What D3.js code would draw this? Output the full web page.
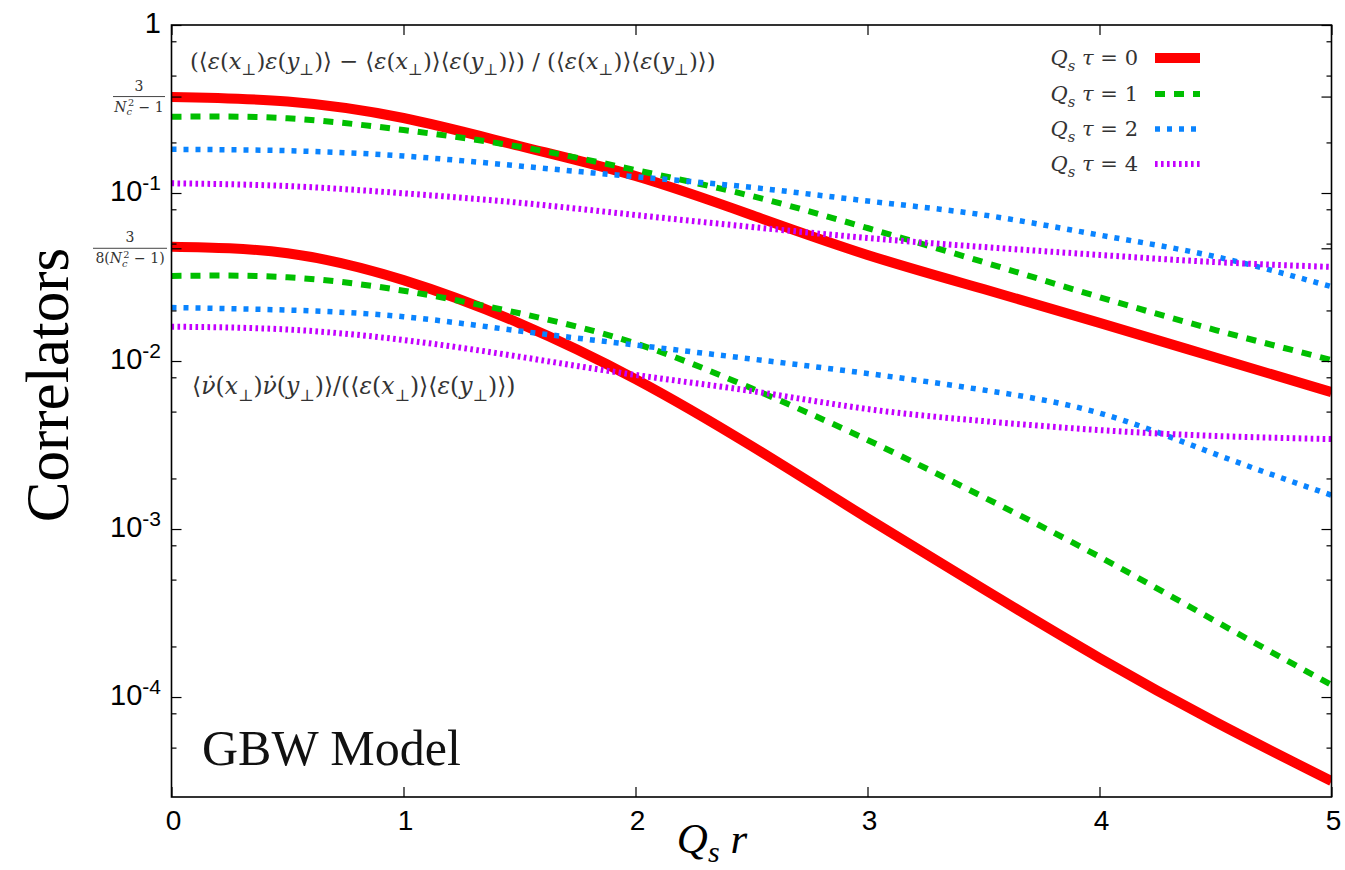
<!DOCTYPE html>
<html>
<head>
<meta charset="utf-8">
<script src="https://cdn.jsdelivr.net/npm/d3@7"></script>
<style>
  html, body { margin: 0; padding: 0; background: #fff; }
  svg { display: block; }
</style>
</head>
<body>
<svg id="chart" width="1345" height="870"></svg>
<script>
// Q_s r sampling points
const qsr = [0, 0.5, 1, 1.5, 2, 2.5, 3, 3.5, 4, 4.5, 5];

// energy density correlator, normalised
const epsTau0 = [0.3727, 0.3505, 0.2795, 0.1905, 0.1262, 0.0740, 0.0428, 0.02683, 0.01686, 0.01049, 0.00653];
const epsTau1 = [0.2845, 0.2784, 0.2371, 0.1886, 0.1370, 0.0960, 0.0619, 0.0388, 0.0240, 0.01529, 0.01014];
const epsTau2 = [0.182, 0.1786, 0.166, 0.1448, 0.125, 0.108, 0.0896, 0.0740, 0.0562, 0.0418, 0.0277];
const epsTau4 = [0.1142, 0.110, 0.0996, 0.0875, 0.0740, 0.0628, 0.0540, 0.0477, 0.0428, 0.0388, 0.0363];

// nu-dot correlator, normalised
const nuTau0 = [0.0479, 0.0438, 0.0303, 0.01677, 0.00781, 0.00312, 0.00116, 0.000439, 0.0001706, 0.0000710, 0.0000316];
const nuTau1 = [0.0321, 0.0315, 0.0262, 0.01923, 0.01274, 0.00688, 0.00339, 0.00155, 0.000684, 0.000283, 0.000118];
const nuTau2 = [0.0208, 0.0201, 0.01835, 0.01509, 0.01245, 0.01028, 0.00843, 0.00672, 0.00490, 0.00279, 0.00159];
const nuTau4 = [0.0160, 0.0154, 0.01334, 0.01061, 0.00826, 0.00663, 0.00518, 0.00439, 0.00388, 0.00358, 0.00343];

const tauLabels = ["0", "1", "2", "4"];
const xTicks = [0, 1, 2, 3, 4, 5];
const yMajorTicks = [1, 1e-1, 1e-2, 1e-3, 1e-4];
const yMajorLabels = ["1", "10^-1", "10^-2", "10^-3", "10^-4"];
const yMinorTicks = [0.8, 0.5, 0.2, 0.08, 0.05, 0.02, 0.008, 0.005, 0.002,
                     0.0008, 0.0005, 0.0002, 0.00008, 0.00005];
const colorFactorTicks = [3 / 8, 3 / 64];   // 3/(Nc^2-1), 3/(8(Nc^2-1)) with Nc = 3

// line styles per tau
const styles = [
  { color: "#ff0000", width: 10, dash: null },
  { color: "#00bf00", width: 6, dash: "10,9" },
  { color: "#0a84ff", width: 5.5, dash: "5,7" },
  { color: "#c400ff", width: 6, dash: "2.6,3.4" }
];

const svg = d3.select("#chart");
const plotLeft = 171.5, plotRight = 1331.5, plotTop = 25, plotBottom = 797;

const x = d3.scaleLinear().domain([0, 5]).range([plotLeft, plotRight]);
const y = d3.scaleLog().domain([Math.pow(10, -4.595), 1]).range([plotBottom, plotTop]);

const serif = "'Liberation Serif', 'DejaVu Serif', serif";
const mathSerif = "'DejaVu Serif', 'Liberation Serif', serif";
const sans = "'Liberation Sans', Arial, sans-serif";

// small math-text renderer: letters italic, _x / ^x for sub/superscripts
function mathText(g, src, size, subShift) {
  const sub = subShift === undefined ? 0.28 : subShift;
  const tokens = [];
  let i = 0;
  const chars = Array.from(src);
  const isMark = ch => /[\u0300-\u036f]/.test(ch);
  function readGroup() {
    if (chars[i] === "{") {
      let s = ""; i++;
      while (i < chars.length && chars[i] !== "}") { s += chars[i]; i++; }
      i++;
      return s;
    }
    let s = chars[i]; i++;
    while (i < chars.length && isMark(chars[i])) { s += chars[i]; i++; }
    return s;
  }
  let lastKind = "n";
  while (i < chars.length) {
    const c = chars[i];
    if (c === "_" || c === "^") {
      i++;
      const grp = readGroup();
      const kind = c === "_" ? "b" : "p";
      const stack = lastKind === "b" && kind === "p";
      Array.from(grp).forEach((ch, n) => {
        tokens.push({ t: ch, it: /[A-Za-zα-ω]/.test(ch), shift: kind === "b" ? sub : -0.38,
                      small: true, dx: stack && n === 0 ? -0.3 * size : 0 });
      });
      lastKind = kind;
      continue;
    }
    let s = c; i++;
    while (i < chars.length && isMark(chars[i])) { s += chars[i]; i++; }
    tokens.push({ t: s, it: /[A-Za-zα-ω]/.test(c), shift: 0, small: false, dx: 0 });
    lastKind = "n";
  }
  let prev = 0;
  tokens.forEach(tk => {
    const dy = (tk.shift - prev) * size;
    prev = tk.shift;
    const ts = g.append("tspan")
      .attr("dy", dy)
      .attr("font-style", tk.it ? "italic" : "normal")
      .attr("font-size", tk.small ? size * 0.7 : size)
      .text(tk.t);
    if (tk.dx) ts.attr("dx", tk.dx);
  });
}

// clip for curves
svg.append("defs").append("clipPath").attr("id", "plotclip")
  .append("rect").attr("x", plotLeft).attr("y", plotTop)
  .attr("width", plotRight - plotLeft).attr("height", plotBottom - plotTop);

const line = d3.line()
  .x(d => x(d[0]))
  .y(d => y(d[1]))
  .curve(d3.curveNatural);

const curves = svg.append("g").attr("clip-path", "url(#plotclip)");
const epsSets = [epsTau0, epsTau1, epsTau2, epsTau4];
const nuSets = [nuTau0, nuTau1, nuTau2, nuTau4];

[0, 1, 2, 3].forEach(k => {
  [epsSets[k], nuSets[k]].forEach(vals => {
    curves.append("path")
      .datum(qsr.map((q, j) => [q, vals[j]]))
      .attr("d", line)
      .attr("fill", "none")
      .attr("stroke", styles[k].color)
      .attr("stroke-width", styles[k].width)
      .attr("stroke-dasharray", styles[k].dash)
      .attr("stroke-linecap", "butt")
      .attr("stroke-linejoin", "round");
  });
});

// axes frame with inward ticks
const axes = svg.append("g");
axes.append("g").attr("transform", `translate(0,${plotBottom})`)
  .call(d3.axisTop(x).tickValues(xTicks).tickSize(10).tickFormat(""))
  .call(g => g.select(".domain").remove());
axes.append("g").attr("transform", `translate(0,${plotTop})`)
  .call(d3.axisBottom(x).tickValues(xTicks).tickSize(10).tickFormat(""))
  .call(g => g.select(".domain").remove());
[[plotLeft, d3.axisRight], [plotRight, d3.axisLeft]].forEach(([px, ax]) => {
  axes.append("g").attr("transform", `translate(${px},0)`)
    .call(ax(y).tickValues(yMajorTicks.concat(colorFactorTicks)).tickSize(10).tickFormat(""))
    .call(g => g.select(".domain").remove());
  axes.append("g").attr("transform", `translate(${px},0)`)
    .call(ax(y).tickValues(yMinorTicks).tickSize(5).tickFormat(""))
    .call(g => g.select(".domain").remove());
});
axes.selectAll("line").attr("stroke", "#000").attr("stroke-width", 1.2);
axes.append("rect")
  .attr("x", plotLeft).attr("y", plotTop)
  .attr("width", plotRight - plotLeft).attr("height", plotBottom - plotTop)
  .attr("fill", "none").attr("stroke", "#000").attr("stroke-width", 1.6);

// x tick labels
svg.append("g").selectAll("text").data(xTicks).join("text")
  .attr("x", d => x(d) + 2).attr("y", 830)
  .attr("text-anchor", "middle")
  .attr("font-family", sans).attr("font-size", 28)
  .text(d => d);

// y tick labels with exponents
const yl = svg.append("g").attr("font-family", sans).attr("fill", "#000");
yMajorTicks.forEach((v, k) => {
  const lab = yMajorLabels[k];
  const t = yl.append("text").attr("x", 161).attr("y", y(v) + 8)
    .attr("text-anchor", "end").attr("font-size", 29);
  if (lab.includes("^")) {
    const [base, ex] = lab.split("^");
    t.append("tspan").text(base);
    t.append("tspan").attr("dy", -11).attr("font-size", 21).text(ex);
  } else {
    t.text(lab);
  }
});

// colour-factor fraction labels
function fraction(val, numer, denom, x0, x1) {
  const yy = y(val);
  const g = svg.append("g").attr("font-family", mathSerif).attr("fill", "#333");
  g.append("line").attr("x1", x0).attr("x2", x1).attr("y1", yy).attr("y2", yy)
    .attr("stroke", "#444").attr("stroke-width", 1);
  g.append("text").attr("x", (x0 + x1) / 2).attr("y", yy - 6).attr("text-anchor", "middle")
    .attr("font-size", 14).text(numer);
  const d = g.append("text").attr("x", (x0 + x1) / 2).attr("y", yy + 15).attr("text-anchor", "middle");
  mathText(d, denom, 14);
}
fraction(colorFactorTicks[0], "3", "N_c^2 − 1", 113, 165);
fraction(colorFactorTicks[1], "3", "8(N_c^2 − 1)", 93, 167);

// curve annotations
const ann1 = svg.append("text").attr("x", 190).attr("y", 69)
  .attr("font-family", mathSerif).attr("fill", "#333");
mathText(ann1, "(⟨ε(x_⊥)ε(y_⊥)⟩ − ⟨ε(x_⊥)⟩⟨ε(y_⊥)⟩) / (⟨ε(x_⊥)⟩⟨ε(y_⊥)⟩)", 22.7);
const ann2 = svg.append("text").attr("x", 192).attr("y", 394)
  .attr("font-family", mathSerif).attr("fill", "#333");
mathText(ann2, "⟨ν\u0307(x_⊥)ν\u0307(y_⊥)⟩/(⟨ε(x_⊥)⟩⟨ε(y_⊥)⟩)", 23.5);

// legend
const legendY = [58, 94, 129, 164];
tauLabels.forEach((lab, k) => {
  const t = svg.append("text").attr("x", 1138).attr("y", legendY[k] + 7)
    .attr("text-anchor", "end").attr("font-family", mathSerif).attr("fill", "#333");
  mathText(t, "Q_s τ = " + lab, 21);
  svg.append("line")
    .attr("x1", 1155).attr("x2", 1200).attr("y1", legendY[k]).attr("y2", legendY[k])
    .attr("stroke", styles[k].color).attr("stroke-width", styles[k].width)
    .attr("stroke-dasharray", styles[k].dash);
});

// model label
svg.append("text").attr("x", 202).attr("y", 765)
  .attr("font-family", serif).attr("font-size", 50).attr("fill", "#111")
  .text("GBW Model");

// axis titles
svg.append("text")
  .attr("transform", "translate(68,385) rotate(-90)")
  .attr("text-anchor", "middle")
  .attr("font-family", serif).attr("font-size", 61)
  .text("Correlators");
const xt = svg.append("text").attr("x", 712).attr("y", 853).attr("text-anchor", "middle")
  .attr("font-family", serif);
mathText(xt, "Q_s r", 43, 0.2);
</script>
</body>
</html>
